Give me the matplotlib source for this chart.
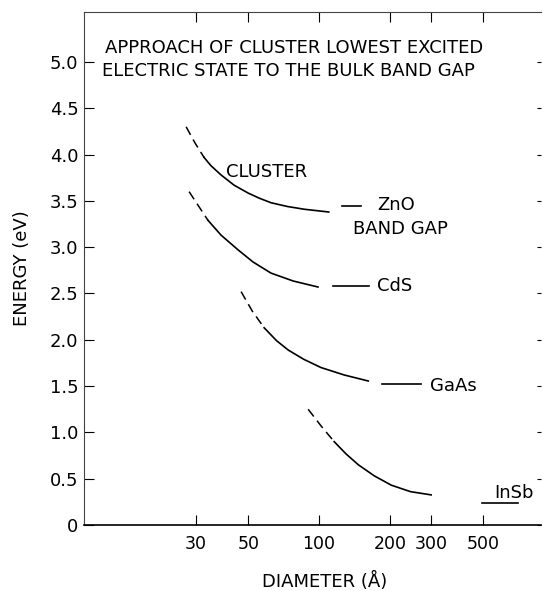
import matplotlib
matplotlib.use("Agg")
import matplotlib.pyplot as plt
from matplotlib.ticker import FixedLocator, NullLocator, FixedFormatter

plt.rcParams.update({
    "font.family": "DejaVu Sans",
    "font.size": 13,
})

# Cluster curves: dashed extrapolation at small sizes, then solid part (diameter in Å, energy in eV)
zno_dash_x = [27.2, 29.6, 32.4]
zno_dash_y = [4.30, 4.13, 3.97]
zno_x = [32.4, 34.7, 38.3, 43.5, 49.9, 55.6, 62.5, 73.2, 86.4, 110.0]
zno_y = [3.97, 3.88, 3.78, 3.67, 3.585, 3.53, 3.48, 3.44, 3.41, 3.38]

cds_dash_x = [28.0, 30.8, 33.7]
cds_dash_y = [3.60, 3.44, 3.29]
cds_x = [33.7, 38.3, 45.3, 52.4, 62.5, 77.6, 99.0]
cds_y = [3.29, 3.13, 2.97, 2.84, 2.72, 2.635, 2.57]

gaas_dash_x = [46.6, 52.0, 58.4]
gaas_dash_y = [2.52, 2.31, 2.13]
gaas_x = [58.4, 66.0, 73.9, 86.0, 102.0, 128.0, 162.0]
gaas_y = [2.13, 1.99, 1.89, 1.79, 1.70, 1.62, 1.555]

insb_dash_x = [89.9, 102.0, 116.0]
insb_dash_y = [1.25, 1.07, 0.90]
insb_x = [116.0, 130.0, 147.0, 172.0, 203.0, 245.0, 300.0]
insb_y = [0.90, 0.77, 0.65, 0.53, 0.43, 0.36, 0.325]

# Bulk band gaps (short horizontal bars)
bulk_names = ["ZnO", "CdS", "GaAs", "InSb"]
bulk_x0 = [125.0, 115.0, 186.0, 494.0]
bulk_x1 = [151.0, 163.0, 272.0, 703.0]
bulk_gap = [3.44, 2.58, 1.52, 0.24]

x_ticks = [30, 50, 100, 200, 300, 500]
y_ticks = [0, 0.5, 1.0, 1.5, 2.0, 2.5, 3.0, 3.5, 4.0, 4.5, 5.0]
y_labels = ["0", "0.5", "1.0", "1.5", "2.0", "2.5", "3.0", "3.5", "4.0", "4.5", "5.0"]

fig = plt.figure(figsize=(5.43, 5.91), dpi=100)
ax = fig.add_axes([0.1547, 0.1117, 0.8416, 0.868])

curves = [
    (zno_dash_x, zno_dash_y, zno_x, zno_y),
    (cds_dash_x, cds_dash_y, cds_x, cds_y),
    (gaas_dash_x, gaas_dash_y, gaas_x, gaas_y),
    (insb_dash_x, insb_dash_y, insb_x, insb_y),
]
for dx, dy, sx, sy in curves:
    ax.plot(dx, dy, color="black", linewidth=1.1, linestyle=(0, (6, 3.5)))
    ax.plot(sx, sy, color="black", linewidth=1.2, solid_joinstyle="round")

for x0, x1, g in zip(bulk_x0, bulk_x1, bulk_gap):
    ax.plot([x0, x1], [g, g], color="black", linewidth=1.2)

# Labels
ax.text(40.3, 3.81, "CLUSTER", ha="left", va="center")
ax.text(177, 3.46, "ZnO", ha="left", va="center")
ax.text(140, 3.20, "BAND GAP", ha="left", va="center")
ax.text(177, 2.58, "CdS", ha="left", va="center")
ax.text(298, 1.50, "GaAs", ha="left", va="center")
ax.text(556, 0.35, "InSb", ha="left", va="center")

ax.text(0.046, 0.930, "APPROACH OF CLUSTER LOWEST EXCITED",
        transform=ax.transAxes, ha="left", va="center")
ax.text(0.040, 0.885, "ELECTRIC STATE TO THE BULK BAND GAP",
        transform=ax.transAxes, ha="left", va="center")

ax.set_xscale("log")
ax.set_xlim(10, 880)
ax.set_ylim(0, 5.54)

ax.xaxis.set_major_locator(FixedLocator(x_ticks))
ax.xaxis.set_major_formatter(FixedFormatter([str(t) for t in x_ticks]))
ax.xaxis.set_minor_locator(NullLocator())
ax.yaxis.set_major_locator(FixedLocator(y_ticks))
ax.yaxis.set_major_formatter(FixedFormatter(y_labels))

ax.tick_params(axis="x", which="major", direction="in", length=7, width=0.8,
               top=True, pad=7, labelsize=12.5)
ax.tick_params(axis="y", which="major", direction="in", width=0.8,
               pad=4, labelsize=13)
ax.yaxis.set_tick_params(which="major", left=True, right=True)
for t in ax.yaxis.get_major_ticks():
    t.tick1line.set_markersize(7)
    t.tick2line.set_markersize(3)

ax.spines["right"].set_visible(False)
ax.spines["bottom"].set_linewidth(1.2)
ax.spines["left"].set_linewidth(0.8)
ax.spines["left"].set_color("#444444")
ax.spines["top"].set_linewidth(0.8)
ax.spines["top"].set_color("#444444")

ax.set_xlabel("DIAMETER (Å)", fontsize=13, va="center")
ax.xaxis.set_label_coords(0.527, -0.111)
ax.set_ylabel("ENERGY (eV)", fontsize=13, va="center")
ax.yaxis.set_label_coords(-0.136, 0.5)

fig.savefig("out.png", dpi=100)
